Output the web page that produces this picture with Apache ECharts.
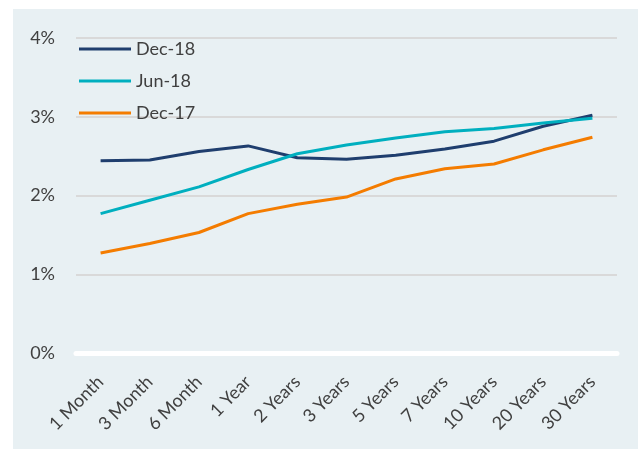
<!DOCTYPE html>
<html>
<head>
<meta charset="utf-8">
<script src="https://cdn.jsdelivr.net/npm/echarts@6/dist/echarts.min.js"></script>
<style>
  html, body { margin: 0; padding: 0; background: #ffffff; }
  #panel { position: absolute; left: 13px; top: 9px; width: 625px; height: 440px; background: #e8f0f3; }
  #main { position: absolute; left: 0; top: 0; width: 639px; height: 449px; }
</style>
</head>
<body>
<div id="panel"></div>
<div id="main"></div>
<script>
  // maturities on the x axis
  var maturities = ['1 Month', '3 Month', '6 Month', '1 Year', '2 Years', '3 Years', '5 Years', '7 Years', '10 Years', '20 Years', '30 Years'];
  // yields in %
  var dec18 = [2.44, 2.45, 2.56, 2.63, 2.48, 2.46, 2.51, 2.59, 2.69, 2.88, 3.02];
  var jun18 = [1.77, 1.94, 2.11, 2.33, 2.53, 2.64, 2.73, 2.81, 2.85, 2.92, 2.98];
  var dec17 = [1.27, 1.39, 1.53, 1.77, 1.89, 1.98, 2.21, 2.34, 2.40, 2.58, 2.74];
  var yTicks = [0, 1, 2, 3, 4];

  var textColor = '#404040';
  var font = 'Lato, "Open Sans", sans-serif';

  var myChart = echarts.init(document.getElementById('main'));

  function lineSeries(name, data, color) {
    return {
      name: name,
      type: 'line',
      data: data,
      symbol: 'none',
      lineStyle: { color: color, width: 3 },
      itemStyle: { color: color },
      z: 3
    };
  }

  var option = {
    backgroundColor: 'transparent',
    animation: false,
    textStyle: { fontFamily: font },
    grid: { left: 76, right: 22, top: 38, bottom: 96 },
    legend: {
      orient: 'vertical',
      left: 74,
      top: 34,
      icon: 'rect',
      itemWidth: 52,
      itemHeight: 3,
      itemGap: 12,
      textStyle: { color: textColor, fontSize: 18, fontFamily: font, lineHeight: 20 },
      data: ['Dec-18', 'Jun-18', 'Dec-17']
    },
    xAxis: {
      type: 'category',
      data: maturities,
      boundaryGap: true,
      axisLine: { show: true, lineStyle: { color: '#ffffff', width: 5 } },
      axisTick: { show: false },
      axisLabel: { rotate: 45, margin: 26, color: textColor, fontSize: 18, fontFamily: font }
    },
    yAxis: {
      type: 'value',
      min: yTicks[0],
      max: yTicks[yTicks.length - 1],
      interval: 1,
      axisLine: { show: false },
      axisTick: { show: false },
      axisLabel: { margin: 21, color: textColor, fontSize: 18, fontFamily: font, formatter: '{value}%' },
      splitLine: { lineStyle: { color: '#d9d9d9', width: 2 } }
    },
    series: [
      lineSeries('Dec-18', dec18, '#1f3e6e'),
      lineSeries('Jun-18', jun18, '#00afbf'),
      lineSeries('Dec-17', dec17, '#f47c00')
    ]
  };

  myChart.setOption(option);
</script>
</body>
</html>
